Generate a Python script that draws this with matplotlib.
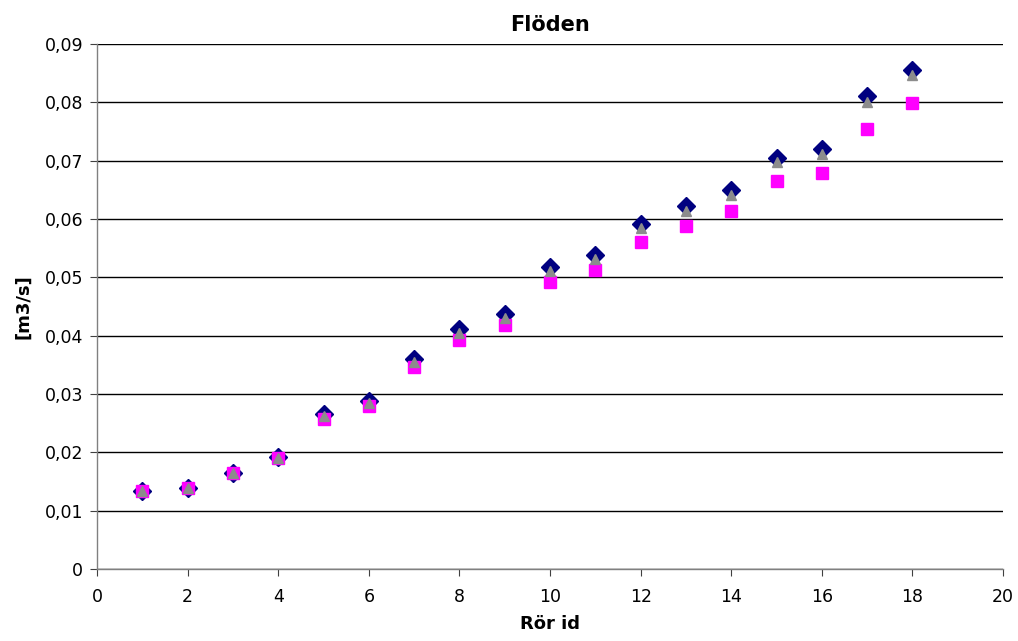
import matplotlib
matplotlib.use("Agg")
import matplotlib.pyplot as plt
from matplotlib.ticker import FuncFormatter

# Rör id
pipe_id = [1, 2, 3, 4, 5, 6, 7, 8, 9, 10, 11, 12, 13, 14, 15, 16, 17, 18]

# flows [m3/s]
flow_diamond = [0.0133, 0.0139, 0.0165, 0.0192, 0.0265, 0.0288, 0.0360, 0.0411, 0.0437,
                0.0517, 0.0539, 0.0591, 0.0622, 0.0649, 0.0704, 0.0720, 0.0810, 0.0856]
flow_square = [0.0133, 0.0139, 0.0165, 0.0190, 0.0257, 0.0280, 0.0347, 0.0393, 0.0418,
               0.0492, 0.0513, 0.0560, 0.0588, 0.0613, 0.0665, 0.0678, 0.0754, 0.0799]
flow_triangle = [0.0133, 0.0139, 0.0165, 0.0191, 0.0262, 0.0285, 0.0354, 0.0404, 0.0430,
                 0.0510, 0.0532, 0.0584, 0.0614, 0.0641, 0.0697, 0.0712, 0.0801, 0.0847]

plt.rcParams['font.family'] = ['DejaVu Sans']

fig = plt.figure(figsize=(10.18, 6.41), dpi=100)
ax = fig.add_axes([0.0953, 0.1123, 0.89, 0.8191])

ax.plot(pipe_id, flow_diamond, linestyle='none', marker='D', markersize=9,
        color='#000080', zorder=3)
ax.plot(pipe_id, flow_square, linestyle='none', marker='s', markersize=8.5,
        color='#FF00FF', zorder=4)
ax.plot(pipe_id, flow_triangle, linestyle='none', marker='^', markersize=7.5,
        color='#8C8C8C', zorder=5)

ax.set_xlim(0, 20)
ax.set_ylim(0, 0.09)
ax.set_xticks(range(0, 21, 2))
ax.set_yticks([i / 100 for i in range(10)])

def comma_fmt(v, pos):
    if abs(v) < 1e-12:
        return '0'
    return f'{v:.2f}'.replace('.', ',')

ax.yaxis.set_major_formatter(FuncFormatter(comma_fmt))
ax.grid(axis='y', color='black', linewidth=1)
ax.set_axisbelow(True)

for s in ['top', 'right']:
    ax.spines[s].set_visible(False)
for s in ['left', 'bottom']:
    ax.spines[s].set_color('#808080')
    ax.spines[s].set_linewidth(1)

ax.tick_params(axis='both', labelsize=12.5, direction='out', length=5, color='#404040')
ax.tick_params(axis='x', pad=9)
ax.tick_params(axis='y', pad=5)

ax.set_title('Flöden', fontsize=15, fontweight='bold', pad=9)
ax.set_xlabel('Rör id', fontsize=13, fontweight='bold', labelpad=6)
ax.set_ylabel('[m3/s]', fontsize=13, fontweight='bold', labelpad=9)

fig.savefig('out.png', dpi=100)
